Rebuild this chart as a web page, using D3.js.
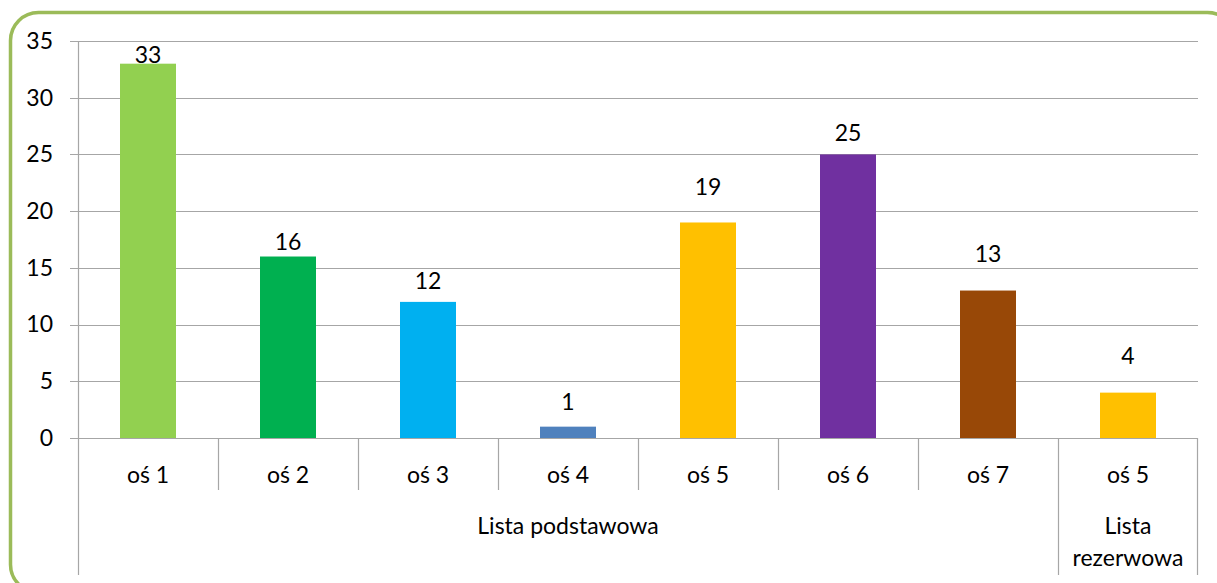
<!DOCTYPE html>
<html>
<head>
<meta charset="utf-8">
<script src="https://cdn.jsdelivr.net/npm/d3@7"></script>
<style>
  body { margin: 0; background: #fff; }
  text { font-family: Lato, "Open Sans", sans-serif; fill: #000; }
</style>
</head>
<body>
<div id="chart"></div>
<script>
// values
var categories = ['oś 1', 'oś 2', 'oś 3', 'oś 4', 'oś 5', 'oś 6', 'oś 7', 'oś 5'];
var values = [33, 16, 12, 1, 19, 25, 13, 4];
var colors = ['#92d050', '#00b050', '#00b0f0', '#4f81bd', '#ffc000', '#7030a0', '#984807', '#ffc000'];
var groups = [
  { name: ['Lista podstawowa'], from: 0, to: 6 },
  { name: ['Lista', 'rezerwowa'], from: 7, to: 7 }
];
var yTicks = [0, 5, 10, 15, 20, 25, 30, 35];
// labels sit at uneven heights above the bars, as in the original
var labelLift = [1, 7, 13, 17, 27, 13, 29, 29];

var width = 1217;
var height = 583;
var plotLeft = 78, plotRight = 1198, plotTop = 41, plotBottom = 438;
var gridColor = '#a6a6a6';
var fontSize = '23px';

var svg = d3.select('#chart').append('svg')
      .attr('width', width)
      .attr('height', height);

// rounded green frame (runs off the right and bottom edges)
svg.append('rect')
      .attr('x', 10.5)
      .attr('y', 12.5)
      .attr('width', 1225)
      .attr('height', 580)
      .attr('rx', 28)
      .attr('fill', 'none')
      .attr('stroke', '#9bbb59')
      .attr('stroke-width', 3.5);

var xScale = d3.scaleBand()
      .domain(d3.range(categories.length))
      .range([plotLeft, plotRight])
      .paddingInner(0)
      .paddingOuter(0);

var yScale = d3.scaleLinear()
      .domain([0, 35])
      .range([plotBottom, plotTop]);

// horizontal gridlines
svg.append('g')
      .selectAll('line')
      .data(yTicks)
      .enter()
      .append('line')
      .attr('x1', plotLeft - 8)
      .attr('x2', plotRight)
      .attr('y1', d => Math.round(yScale(d)) + 0.5)
      .attr('y2', d => Math.round(yScale(d)) + 0.5)
      .attr('stroke', gridColor)
      .attr('stroke-width', 1.2);

// y axis labels
var yAxis = d3.axisLeft(yScale)
      .tickValues(yTicks)
      .tickSize(0)
      .tickPadding(25);
var gy = svg.append('g')
      .attr('transform', 'translate(' + plotLeft + ',0)')
      .call(yAxis);
gy.select('.domain').remove();
gy.selectAll('text')
      .style('font-size', fontSize)
      .style('font-family', 'Lato, sans-serif')
      .attr('fill', '#000');

// left axis line running down through the category area
svg.append('line')
      .attr('x1', plotLeft + 0.5).attr('x2', plotLeft + 0.5)
      .attr('y1', plotTop).attr('y2', 575)
      .attr('stroke', gridColor).attr('stroke-width', 1.2);

// bars
var barWidth = 56;
svg.append('g')
      .selectAll('rect')
      .data(values)
      .enter()
      .append('rect')
      .attr('x', (d, i) => xScale(i) + xScale.bandwidth() / 2 - barWidth / 2)
      .attr('y', d => yScale(d))
      .attr('width', barWidth)
      .attr('height', d => yScale(0) - yScale(d))
      .attr('fill', (d, i) => colors[i]);

// value labels
svg.append('g')
      .selectAll('text')
      .data(values)
      .enter()
      .append('text')
      .attr('x', (d, i) => xScale(i) + xScale.bandwidth() / 2)
      .attr('y', (d, i) => yScale(d) - labelLift[i])
      .attr('text-anchor', 'middle')
      .style('font-size', fontSize)
      .text(d => d);

// category labels
svg.append('g')
      .selectAll('text')
      .data(categories)
      .enter()
      .append('text')
      .attr('x', (d, i) => xScale(i) + xScale.bandwidth() / 2)
      .attr('y', 483)
      .attr('text-anchor', 'middle')
      .style('font-size', fontSize)
      .text(d => d);

// separators between categories
svg.append('g')
      .selectAll('line')
      .data(d3.range(1, categories.length))
      .enter()
      .append('line')
      .attr('x1', i => Math.round(xScale(i)) + 0.5)
      .attr('x2', i => Math.round(xScale(i)) + 0.5)
      .attr('y1', plotBottom)
      .attr('y2', i => groups.some(g => g.from === i) ? 575 : 490)
      .attr('stroke', gridColor)
      .attr('stroke-width', 1.2);

// right edge of the last group
svg.append('line')
      .attr('x1', plotRight - 0.5).attr('x2', plotRight - 0.5)
      .attr('y1', plotBottom).attr('y2', 575)
      .attr('stroke', gridColor).attr('stroke-width', 1.2);

// group labels
groups.forEach(function(g) {
      var cx = (xScale(g.from) + xScale(g.to) + xScale.bandwidth()) / 2;
      var t = svg.append('text')
            .attr('x', cx)
            .attr('y', 534)
            .attr('text-anchor', 'middle')
            .style('font-size', fontSize);
      g.name.forEach(function(line, k) {
            t.append('tspan')
                  .attr('x', cx)
                  .attr('dy', k === 0 ? 0 : 32)
                  .text(line);
      });
});
</script>
</body>
</html>
